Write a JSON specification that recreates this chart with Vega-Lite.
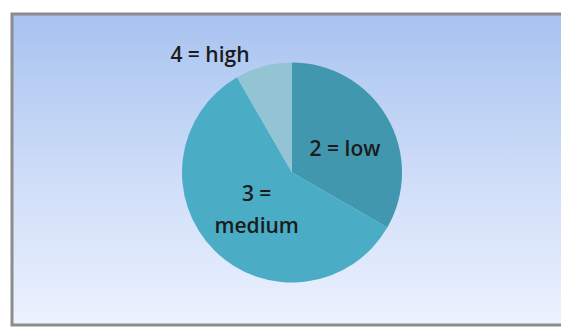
{
  "$schema": "https://vega.github.io/schema/vega-lite/v6.json",
  "autosize": {"type": "fit", "contains": "padding"},
  "width": 561,
  "height": 327,
  "padding": {"left": 10, "top": 12, "right": -7, "bottom": 0},
  "background": "#ffffff",
  "config": {"view": {"stroke": null}},
  "data": {"values": [
    {"category": "2 = low", "label": "2 = low", "count": 4},
    {"category": "3 = medium", "label": "3 =\nmedium", "count": 7},
    {"category": "4 = high", "label": "4 = high", "count": 1}
  ]},
  "layer": [
    {
      "data": {"values": [{"frame": "background"}]},
      "mark": {"type": "rect", "stroke": "#8c8c8c", "strokeWidth": 3,
        "fill": {"gradient": "linear", "x1": 0, "y1": 0, "x2": 0, "y2": 1,
          "stops": [{"offset": 0, "color": "#a8c3f0"}, {"offset": 0.5, "color": "#cddcf8"}, {"offset": 1, "color": "#ecf2fe"}]}},
      "encoding": {}
    },
    {
      "mark": {"type": "arc", "outerRadius": 110, "xOffset": 3, "yOffset": 3},
      "encoding": {
        "theta": {"field": "count", "type": "quantitative", "stack": true},
        "order": {"field": "category", "type": "nominal", "sort": "ascending"},
        "color": {"field": "category", "type": "nominal",
          "scale": {"domain": ["2 = low", "3 = medium", "4 = high"], "range": ["#4198ae", "#4bacc5", "#92c4d3"]},
          "legend": null}
      }
    },
    {
      "mark": {"type": "text", "radius": 60, "xOffset": 3, "yOffset": 3, "dx": 1, "dy": 13, "font": "Open Sans", "fontSize": 21, "fontWeight": 600, "color": "#1b1b1b", "baseline": "alphabetic", "align": "center"},
      "encoding": {
        "theta": {"field": "count", "type": "quantitative", "stack": true},
        "order": {"field": "category", "type": "nominal", "sort": "ascending"},
        "detail": {"field": "category", "type": "nominal"},
        "text": {"condition": {"test": "datum.category === '2 = low'", "field": "label"}, "value": ""}
      }
    },
    {
      "mark": {"type": "text", "radius": 50, "xOffset": 3, "yOffset": 3, "dx": 0, "dy": -7, "font": "Open Sans", "fontSize": 21, "fontWeight": 600, "color": "#1b1b1b", "baseline": "alphabetic", "align": "center", "lineBreak": "\n", "lineHeight": 32},
      "encoding": {
        "theta": {"field": "count", "type": "quantitative", "stack": true},
        "order": {"field": "category", "type": "nominal", "sort": "ascending"},
        "detail": {"field": "category", "type": "nominal"},
        "text": {"condition": {"test": "datum.category === '3 = medium'", "field": "label"}, "value": ""}
      }
    },
    {
      "mark": {"type": "text", "radius": 120, "xOffset": 3, "yOffset": 3, "dx": -51, "dy": 5, "font": "Open Sans", "fontSize": 21, "fontWeight": 600, "color": "#1b1b1b", "baseline": "alphabetic", "align": "center"},
      "encoding": {
        "theta": {"field": "count", "type": "quantitative", "stack": true},
        "order": {"field": "category", "type": "nominal", "sort": "ascending"},
        "detail": {"field": "category", "type": "nominal"},
        "text": {"condition": {"test": "datum.category === '4 = high'", "field": "label"}, "value": ""}
      }
    }
  ]
}
